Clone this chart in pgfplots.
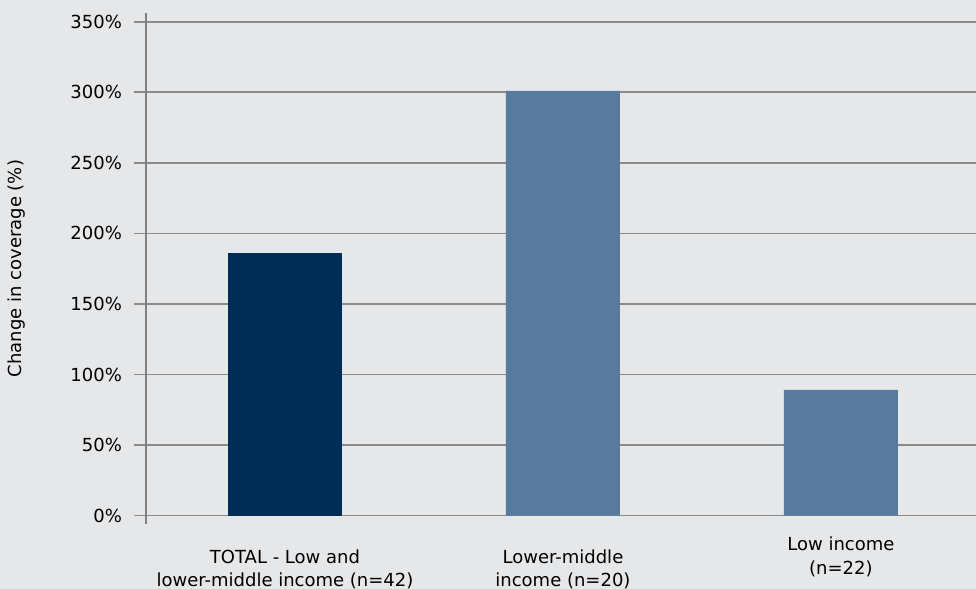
\documentclass[border=0pt]{standalone}
\usepackage{fontspec}
\setmainfont{DejaVu Sans}
\usepackage{pgfplots}
\pgfplotsset{compat=1.18}
\definecolor{bg}{HTML}{E6E7E9}
\definecolor{darkbar}{HTML}{002D56}
\definecolor{lightbar}{HTML}{587A9E}
\definecolor{gridc}{HTML}{8A8A8A}
\definecolor{axisc}{HTML}{808080}
\begin{document}
\begin{tikzpicture}
\useasboundingbox[fill=bg] (-73pt,-32.5pt) rectangle (415pt,262pt);
\begin{axis}[
  at={(0pt,0pt)}, anchor=south west,
  scale only axis, width=415pt, height=255.5pt,
  xmin=-0.5, xmax=2.486, ymin=-6, ymax=356.2,
  axis x line=bottom,
  x axis line style={draw=none},
  axis y line=left,
  y axis line style={-, axisc, line width=1.2pt},
  ybar, bar width=57pt, bar shift=0pt,
  xtick={0,1}, xticklabels={{TOTAL - Low and\\lower-middle income (n=42)},{Lower-middle\\income (n=20)}},
  extra x ticks={2}, extra x tick labels={{Low income\\(n=22)}},
  extra x tick style={xticklabel style={yshift=6.35pt}},
  xticklabel style={align=center, anchor=north, yshift=-3.3pt},
  xtick style={draw=none},
  ytick={0,50,...,350},
  yticklabel={\pgfmathprintnumber{\tick}\%},
  /pgf/number format/assume math mode=true,
  ytick align=outside,
  major tick length=6pt,
  ytick style={gridc, line width=0.8pt},
  ymajorgrids, grid style={gridc, line width=0.8pt},
  tick label style={font=\fontsize{9}{11.7}\selectfont, text=black},
  yticklabel style={xshift=-2.5pt},
  ylabel={Change in coverage (\%)},
  ylabel style={at={(axis description cs:-0.1554,0.5)}, anchor=center, font=\fontsize{9}{11}\selectfont},
  clip=false,
]
\addplot[fill=darkbar, draw=none] coordinates {(0,186)};
\addplot[fill=lightbar, draw=none] coordinates {(1,301) (2,89)};
\end{axis}
\end{tikzpicture}
\end{document}
